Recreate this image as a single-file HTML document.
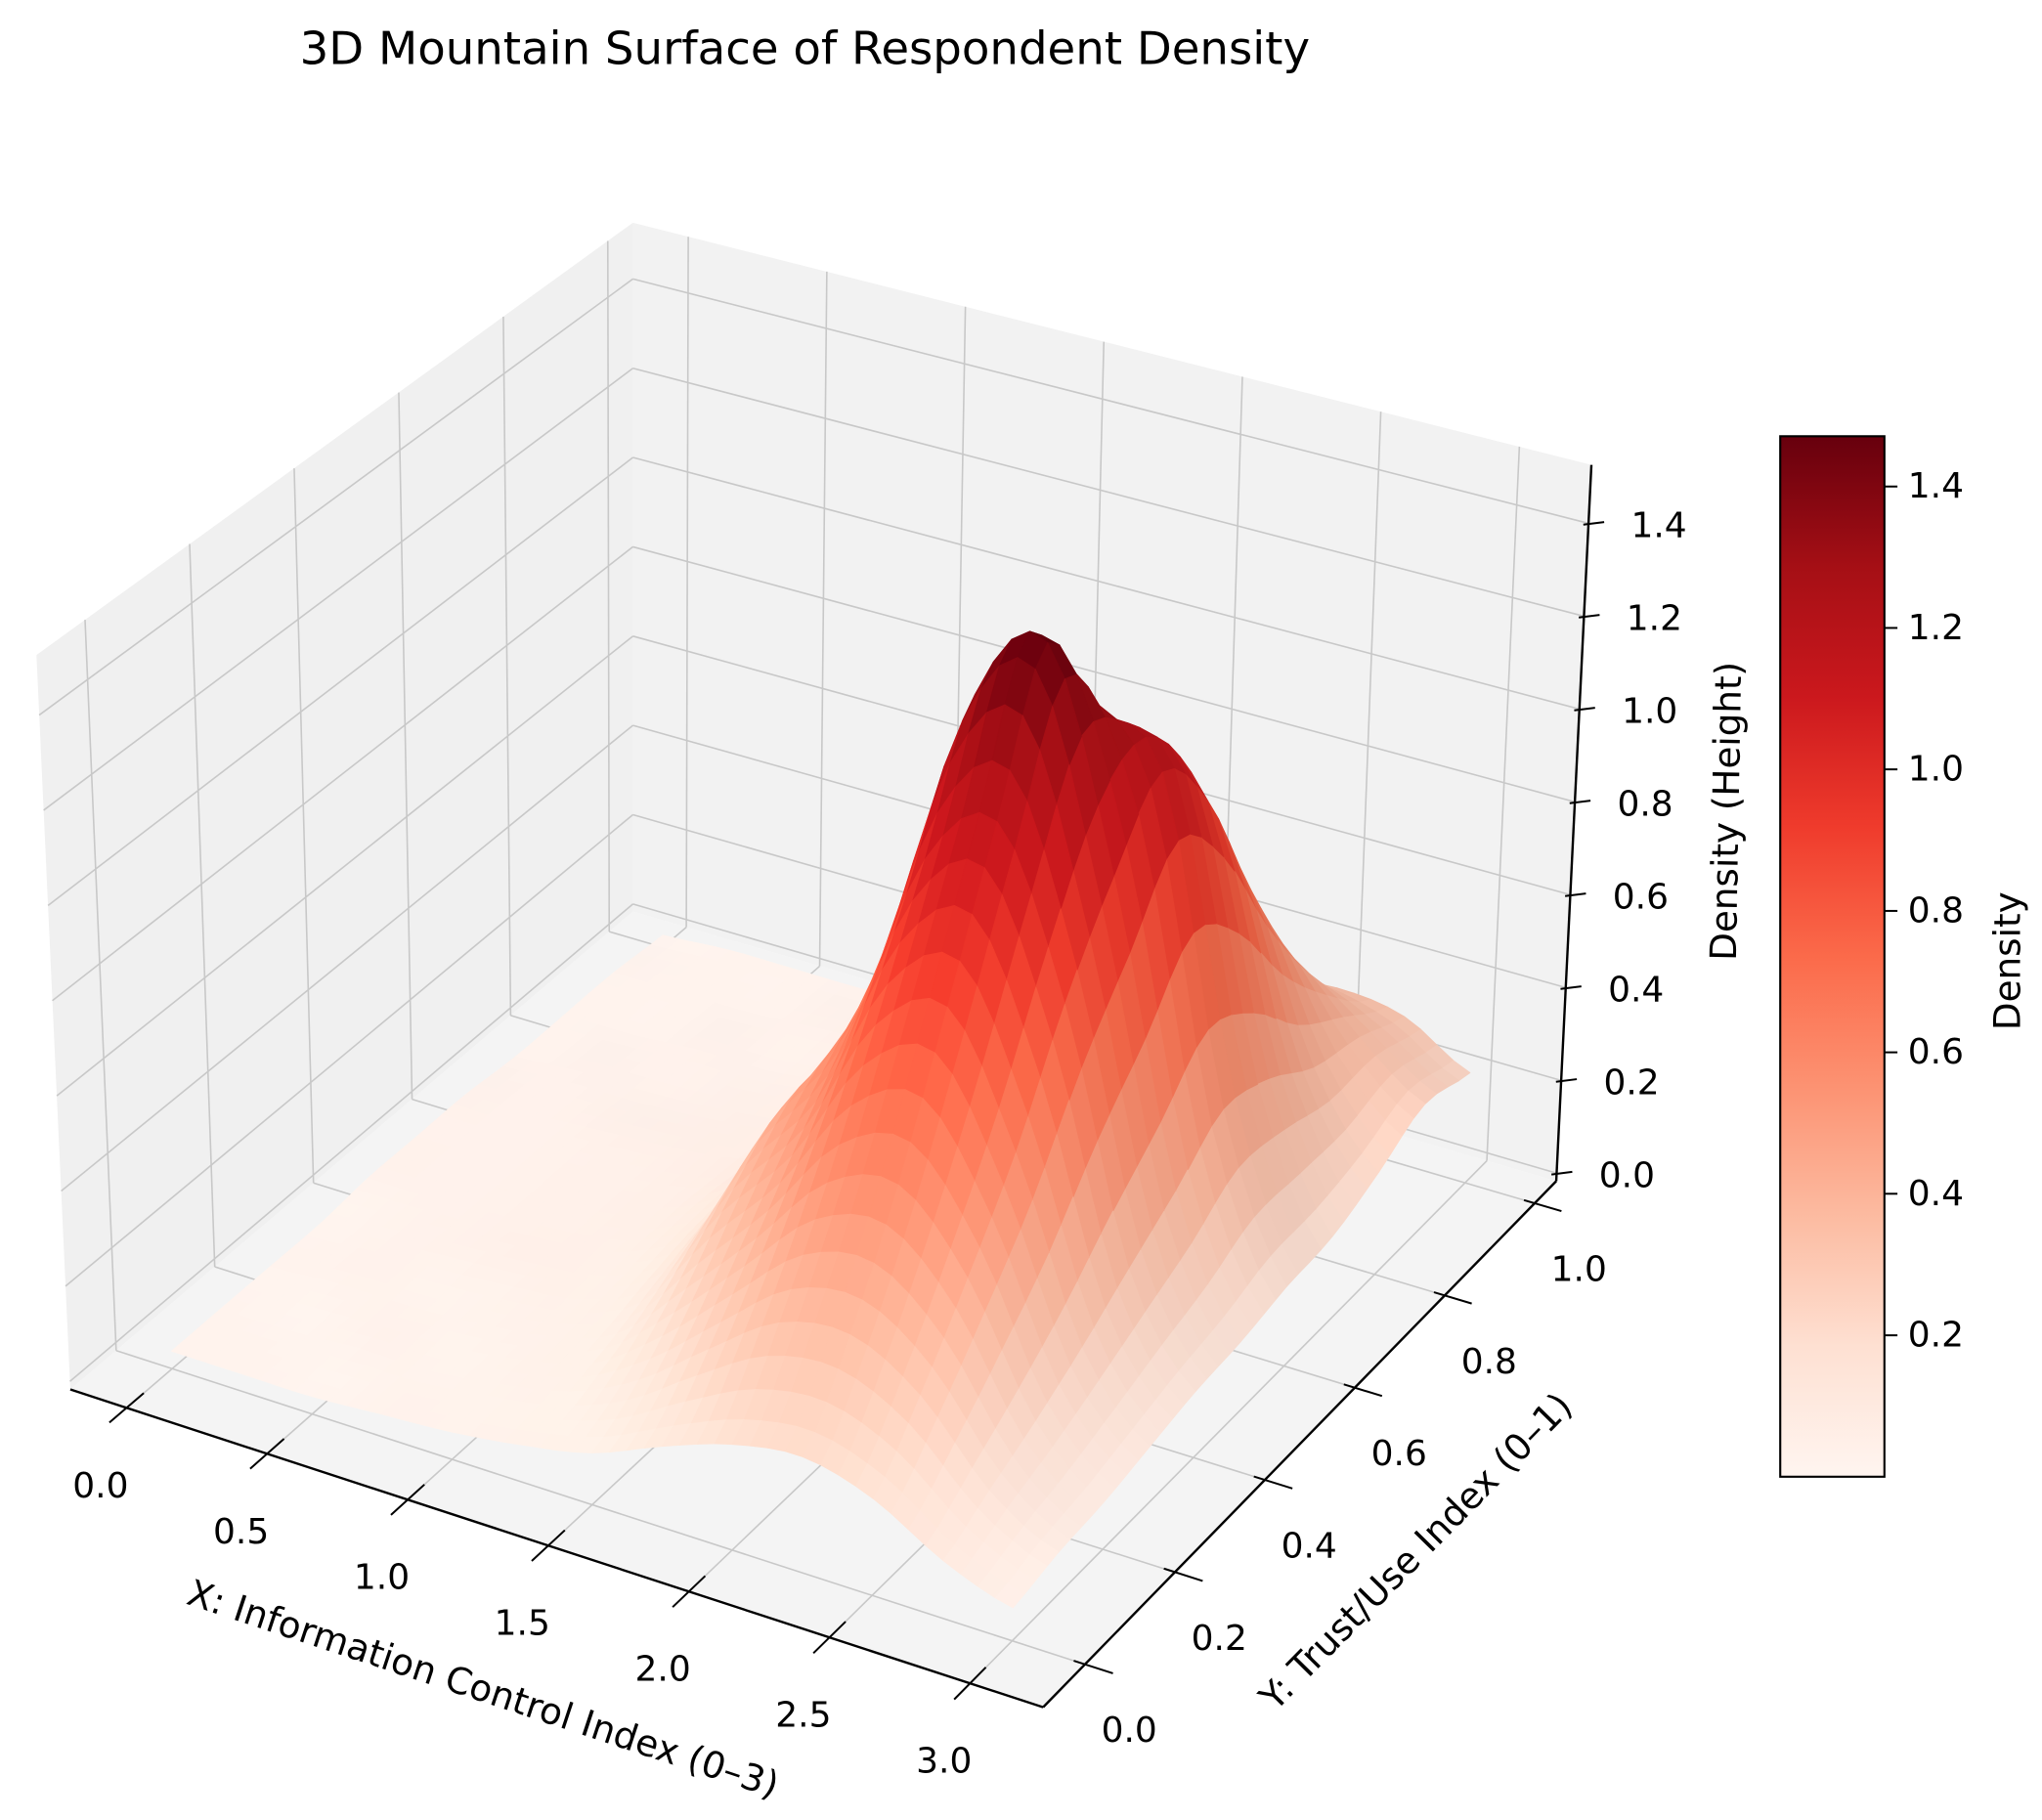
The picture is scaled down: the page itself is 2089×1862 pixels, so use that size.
<!DOCTYPE html>
<html><head><meta charset="utf-8"><title>3D Mountain Surface of Respondent Density</title>
<style>html,body{margin:0;padding:0;background:#fff;}svg{display:block;font-family:"DejaVu Sans","Liberation Sans",sans-serif;}</style>
</head><body>
<svg id="chart" xmlns="http://www.w3.org/2000/svg" width="2089" height="1862" viewBox="0 0 1568 1397.6" preserveAspectRatio="none">
<rect x="0" y="0" width="1568" height="1398" fill="#ffffff"/>
<text x="618" y="49" font-size="35" text-anchor="middle" fill="#000">3D Mountain Surface of Respondent Density</text>
<g id="panes"></g>
<g id="grid"></g>
<g id="surface"></g>
<g id="axes"></g>
<g id="labels"></g>
<text x="368" y="1306" font-size="28" text-anchor="middle" transform="rotate(18.3 368 1306)">X: Information Control Index (0–3)</text>
<text x="1094" y="1198" font-size="28" text-anchor="middle" transform="rotate(-45.5 1094 1198)">Y: Trust/Use Index (0–1)</text>
<text x="1335" y="623" font-size="28" text-anchor="middle" transform="rotate(-89 1335 623)">Density (Height)</text>
<defs>
<linearGradient id="cbgrad" x1="0" y1="1" x2="0" y2="0">
<stop offset="0" stop-color="#fff5f0"/><stop offset="0.125" stop-color="#fee0d2"/><stop offset="0.25" stop-color="#fcbba1"/><stop offset="0.375" stop-color="#fc9272"/><stop offset="0.5" stop-color="#fb6a4a"/><stop offset="0.625" stop-color="#ef3b2c"/><stop offset="0.75" stop-color="#cb181d"/><stop offset="0.875" stop-color="#a50f15"/><stop offset="1" stop-color="#67000d"/>
</linearGradient>
</defs>
<g id="colorbar">
<rect x="1367" y="335" width="80" height="799" fill="url(#cbgrad)" stroke="#000" stroke-width="1.6"/>
</g>
<text x="1551" y="738" font-size="28" text-anchor="middle" transform="rotate(-90 1551 738)">Density</text>
</svg>
<script>
// ---- data ----
const xValues = [0,0.25,0.5,0.75,1.0,1.25,1.5,1.75,2.0,2.25,2.5,2.75,3.0];
const yValues = [0,0.1,0.2,0.3,0.4,0.5,0.6,0.7,0.8,0.9,1.0];
const densityRows = [
 [0.02,0.02,0.02,0.03,0.04,0.06,0.09,0.15,0.20,0.22,0.18,0.10,0.05],
 [0.02,0.02,0.03,0.03,0.05,0.08,0.15,0.26,0.36,0.38,0.30,0.15,0.07],
 [0.02,0.03,0.03,0.04,0.06,0.11,0.25,0.40,0.56,0.60,0.45,0.20,0.08],
 [0.02,0.03,0.04,0.05,0.07,0.15,0.37,0.54,0.80,0.88,0.62,0.26,0.10],
 [0.03,0.03,0.04,0.05,0.08,0.18,0.45,0.67,1.06,1.18,0.84,0.33,0.12],
 [0.03,0.03,0.04,0.05,0.08,0.18,0.40,0.78,1.32,1.47,1.02,0.40,0.13],
 [0.03,0.03,0.04,0.05,0.07,0.14,0.33,0.68,1.12,1.22,1.15,0.48,0.15],
 [0.02,0.03,0.03,0.04,0.06,0.11,0.25,0.54,0.94,1.05,1.00,0.45,0.16],
 [0.02,0.02,0.03,0.03,0.05,0.08,0.18,0.40,0.70,0.78,0.72,0.38,0.20],
 [0.02,0.02,0.02,0.03,0.04,0.06,0.12,0.25,0.45,0.50,0.48,0.35,0.25],
 [0.01,0.02,0.02,0.02,0.03,0.05,0.08,0.15,0.27,0.30,0.32,0.30,0.22]
];
const xTicks = [0.0,0.5,1.0,1.5,2.0,2.5,3.0];
const yTicks = [0.0,0.2,0.4,0.6,0.8,1.0];
const zTicks = [0.0,0.2,0.4,0.6,0.8,1.0,1.2,1.4];
const cbTicks = [0.2,0.4,0.6,0.8,1.0,1.2,1.4];

// ---- projection ----
const XL=-0.2, XH=3.26, YL=-0.093, YH=1.048, ZL=-0.017, ZH=1.526;
const CA={x:54,y:1067,h:564,l:-26}, CB={x:801,y:1311,h:590,l:15}, CC={x:1195,y:907,h:550,l:27}, CD={x:486,y:700,h:529,l:0};
function bil(k,u,v){return CA[k]*(1-u)*(1-v)+CB[k]*u*(1-v)+CC[k]*u*v+CD[k]*(1-u)*v;}
function proj(x,y,z){
  const u=(x-XL)/(XH-XL), v=(y-YL)/(YH-YL), w=(z-ZL)/(ZH-ZL);
  return [bil('x',u,v)+w*bil('l',u,v), bil('y',u,v)-w*bil('h',u,v)];
}
function depth(x,y,z){const u=(x-XL)/(XH-XL), v=(y-YL)/(YH-YL), w=(z-ZL)/(ZH-ZL);return 0.433*u-0.75*v+0.5*w;}
const NS='http://www.w3.org/2000/svg';
function mk(tag,attrs,parent){const e=document.createElementNS(NS,tag);for(const k in attrs)e.setAttribute(k,attrs[k]);parent.appendChild(e);return e;}
function pts(arr){return arr.map(p=>p[0].toFixed(1)+','+p[1].toFixed(1)).join(' ');}

// ---- panes ----
const panes=document.getElementById('panes');
let p=mk('polygon',{points:pts([proj(XL,YL,ZL),proj(XL,YH,ZL),proj(XL,YH,ZH),proj(XL,YL,ZH)]),fill:'#f0f0f0'},panes);


p=mk('polygon',{points:pts([proj(XL,YH,ZL),proj(XH,YH,ZL),proj(XH,YH,ZH),proj(XL,YH,ZH)]),fill:'#f2f2f2'},panes);


p=mk('polygon',{points:pts([proj(XL,YL,ZL),proj(XH,YL,ZL),proj(XH,YH,ZL),proj(XL,YH,ZL)]),fill:'#f4f4f4'},panes);



// ---- grid ----
const grid=document.getElementById('grid');
function gl(a,b,name){const [x1,y1]=a,[x2,y2]=b;const l=mk('line',{x1:x1.toFixed(1),y1:y1.toFixed(1),x2:x2.toFixed(1),y2:y2.toFixed(1),stroke:'#c8c8c8','stroke-width':1.2},grid);

}
xTicks.forEach(t=>{gl(proj(t,YL,ZL),proj(t,YH,ZL),'floor-grid-x');gl(proj(t,YH,ZL),proj(t,YH,ZH),'back-grid-x');});
yTicks.forEach(t=>{gl(proj(XL,t,ZL),proj(XH,t,ZL),'floor-grid-y');gl(proj(XL,t,ZL),proj(XL,t,ZH),'left-grid-y');});
zTicks.forEach(t=>{gl(proj(XL,YL,t),proj(XL,YH,t),'left-grid-z');gl(proj(XL,YH,t),proj(XH,YH,t),'back-grid-z');});

// ---- colormap ----
const VMIN=0.003, VMAX=1.471;
const reds=[[255,245,240],[254,224,210],[252,187,161],[252,146,114],[251,106,74],[239,59,44],[203,24,29],[165,15,21],[103,0,13]];
function cmap(z){let t=(z-VMIN)/(VMAX-VMIN);t=Math.max(0,Math.min(1,t))*8;const i=Math.min(7,Math.floor(t)),f=t-i;return reds[i].map((c,k)=>c+(reds[i+1][k]-c)*f);}

// ---- surface (Catmull-Rom smoothing of grid values) ----
function cr(p0,p1,p2,p3,t){return 0.5*((2*p1)+(-p0+p2)*t+(2*p0-5*p1+4*p2-p3)*t*t+(-p0+3*p1-3*p2+p3)*t*t*t);}
function Zat(i,j){i=Math.max(0,Math.min(yValues.length-1,i));j=Math.max(0,Math.min(xValues.length-1,j));return densityRows[i][j];}
function sampleZ(fx,fy){
  const j=Math.min(Math.floor(fx),xValues.length-2), i=Math.min(Math.floor(fy),yValues.length-2);
  const tx=fx-j, ty=fy-i; const r=[];
  for(let k=-1;k<=2;k++)r.push(cr(Zat(i+k,j-1),Zat(i+k,j),Zat(i+k,j+1),Zat(i+k,j+2),tx));
  return Math.max(0.005,cr(r[0],r[1],r[2],r[3],ty));
}
const SUB=4, NX=(xValues.length-1)*SUB, NY=(yValues.length-1)*SUB;
const xmin=xValues[0], xmax=xValues[xValues.length-1], ymin=yValues[0], ymax=yValues[yValues.length-1];
const Pgrid=[];
for(let a=0;a<=NY;a++){const row=[];for(let b=0;b<=NX;b++){const fx=b/SUB, fy=a/SUB;
  const x=xmin+(xmax-xmin)*b/NX, y=ymin+(ymax-ymin)*a/NY; row.push({x,y,z:sampleZ(fx,fy)});}Pgrid.push(row);}
const quads=[];
const L=[-0.667,-0.667,0.333];
for(let a=0;a<NY;a++)for(let b=0;b<NX;b++){
  const q=[Pgrid[a][b],Pgrid[a][b+1],Pgrid[a+1][b+1],Pgrid[a+1][b]];
  const zc=(q[0].z+q[1].z+q[2].z+q[3].z)/4;
  const xc=(q[0].x+q[1].x)/2, yc=(q[0].y+q[3].y)/2;
  const dx=[q[1].x-q[0].x,0,((q[1].z+q[2].z)-(q[0].z+q[3].z))/2];
  const dy=[0,q[3].y-q[0].y,((q[3].z+q[2].z)-(q[0].z+q[1].z))/2];
  let n=[dx[1]*dy[2]-dx[2]*dy[1],dx[2]*dy[0]-dx[0]*dy[2],dx[0]*dy[1]-dx[1]*dy[0]];
  const nl=Math.hypot(n[0],n[1],n[2]);n=n.map(c=>c/nl);
  const sh=n[0]*L[0]+n[1]*L[1]+n[2]*L[2];
  const f=Math.max(0.9,Math.min(1.03,1+0.1*(sh-0.333)));
  const col=cmap(zc).map(c=>Math.round(Math.min(255,c*f)));
  quads.push({q,d:depth(xc,yc,zc*0.2),col});
}
quads.sort((a,b)=>a.d-b.d);
const surf=document.getElementById('surface');
quads.forEach(o=>{const c='rgb('+o.col.join(',')+')';
  const el=mk('polygon',{points:pts(o.q.map(P=>proj(P.x,P.y,P.z))),fill:c,stroke:c,'stroke-width':0.7,'stroke-linejoin':'round'},surf);
  
  
});

// ---- axes lines and ticks ----
const axes=document.getElementById('axes'), labels=document.getElementById('labels');
function al(a,b,name,w){const l=mk('line',{x1:a[0].toFixed(1),y1:a[1].toFixed(1),x2:b[0].toFixed(1),y2:b[1].toFixed(1),stroke:'#000','stroke-width':w||1.8},axes);

}
al(proj(XL,YL,ZL),proj(XH,YL,ZL),'x-axis-line');
al(proj(XH,YL,ZL),proj(XH,YH,ZL),'y-axis-line');
al(proj(XH,YH,ZL),proj(XH,YH,ZH),'z-axis-line');
function lbl(x,y,txt,name,anchor){const t=mk('text',{x:x.toFixed(1),y:y.toFixed(1),'font-size':27,'text-anchor':anchor||'middle','dominant-baseline':'central',fill:'#000'},labels);t.textContent=txt;

}
xTicks.forEach(t=>{const a=proj(t,YL+0.035,ZL),b=proj(t,YL-0.035,ZL);al(a,b,'x-tick',1.5);const p0=proj(t,YL,ZL);lbl(p0[0]-20,p0[1]+60,t.toFixed(1),'x-tick-label');});
yTicks.forEach(t=>{const a=proj(XH-0.04,t,ZL),b=proj(XH+0.1,t,ZL);al(a,b,'y-tick',1.5);const p0=proj(XH,t,ZL);lbl(p0[0]+34,p0[1]+51,t.toFixed(1),'y-tick-label');});
zTicks.forEach(t=>{const p0=proj(XH,YH,t);al([p0[0]-4,p0[1]+1],[p0[0]+12,p0[1]-1],'z-tick',1.5);lbl(p0[0]+54,p0[1]+2,t.toFixed(1),'z-tick-label');});

// ---- colorbar ticks ----
const cb=document.getElementById('colorbar');
const CBT=335, CBB=1134, CBMIN=0.0, CBMAX=1.471;
cbTicks.forEach(t=>{const y=CBB-(t-CBMIN)/(CBMAX-CBMIN)*(CBB-CBT);
  const l=mk('line',{x1:1447,y1:y.toFixed(1),x2:1457,y2:y.toFixed(1),stroke:'#000','stroke-width':1.5},cb);
  
  
  const tx=mk('text',{x:1465,y:y.toFixed(1),'font-size':27,'dominant-baseline':'central',fill:'#000'},cb);tx.textContent=t.toFixed(1);
  
  
});
</script>
</body></html>
